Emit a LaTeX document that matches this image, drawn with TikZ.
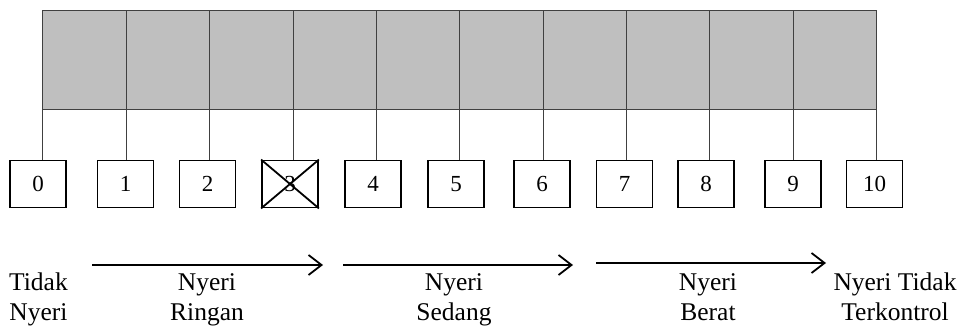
\documentclass[tikz,border=0pt]{standalone}
\usepackage{fontspec}
\setmainfont{Liberation Serif}
\usetikzlibrary{arrows.meta}
\begin{document}
\begin{tikzpicture}[x=1pt,y=-1pt,
  numbox/.style={draw=black,line width=1.8pt,fill=white,minimum width=56pt,minimum height=47pt,inner sep=0pt,font=\fontsize{23}{26}\selectfont},
  tick/.style={draw=black!75,line width=1pt},
  lbl/.style={align=center,inner sep=0pt,font=\fontsize{25.5}{29.5}\selectfont},
  prog/.style={line width=1.8pt,-{Straight Barb[length=13pt,width=20pt,line width=1.8pt]}}]
\useasboundingbox (0,0) rectangle (963,326);
% gray band
\fill[black!25] (42,11) rectangle (876,110);
\draw[tick] (42,110) -- (876,110) -- (876,11) -- (42,11) -- cycle;
% boxes
\foreach \i/\x in {0/38,1/125.5,2/207.5,3/290,4/373,5/456,6/542,7/624.5,8/706,9/793,10/874.5}{
  \node[numbox] (b\i) at (\x,184) {\i};
}
% tick lines from top of band to boxes
\foreach \i/\x in {0/42,1/126,2/209,3/293,4/376,5/459,6/543,7/626,8/709,9/793,10/876}{
  \coordinate (t\i) at (\x,11);
  \draw[tick] (t\i) -- (t\i |- b\i.north);
}
% cross on box 3
\draw[line width=1.8pt] (b3.north west) -- (b3.south east);
\draw[line width=1.8pt] (b3.south west) -- (b3.north east);
% labels
\node[lbl,anchor=base west] (l0) at (9,320) {Tidak\\Nyeri};
\node[lbl,anchor=base] (l1) at (207,320) {Nyeri\\Ringan};
\node[lbl,anchor=base] (l2) at (454,320) {Nyeri\\Sedang};
\node[lbl,anchor=base] (l3) at (708,320) {Nyeri\\Berat};
\node[lbl,anchor=base] (l4) at (895,320) {Nyeri Tidak\\Terkontrol};
% arrows
\coordinate (a1s) at (92,265); \coordinate (a1e) at (323,265);
\coordinate (a2s) at (343,265); \coordinate (a2e) at (573,265);
\coordinate (a3s) at (596,263); \coordinate (a3e) at (826,263);
\draw[prog] (a1s) -- (a1e);
\draw[prog] (a2s) -- (a2e);
\draw[prog] (a3s) -- (a3e);
\end{tikzpicture}
\end{document}
